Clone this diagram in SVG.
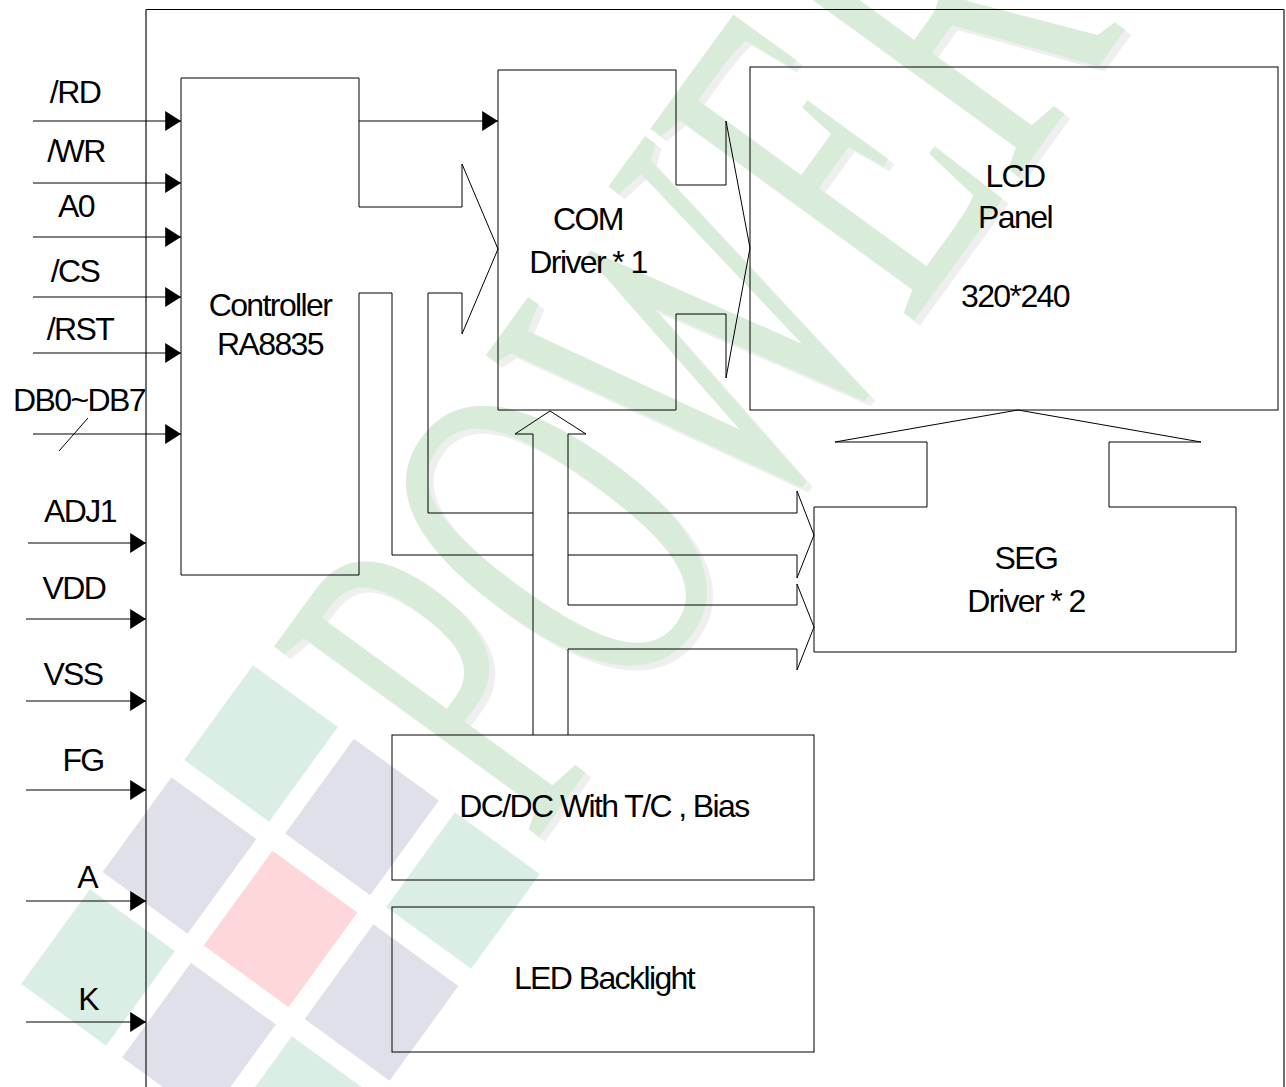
<svg xmlns="http://www.w3.org/2000/svg" width="1286" height="1087" viewBox="0 0 1286 1087">
<style>
.ln{fill:none;stroke:#000;stroke-width:1}
.fr{fill:none;stroke:#333;stroke-width:1.4}
.t{font-family:"Liberation Sans",Arial,sans-serif;font-size:32px;letter-spacing:-1.6px;fill:#000;text-anchor:middle}
.mint{fill:#dbeee5}
.lav{fill:#e0e0eb}
.pink{fill:#fdd7d9}
.wm{font-family:"Liberation Serif","Times New Roman",serif;font-size:300px}
</style>
<defs>
<marker id="ah" markerUnits="userSpaceOnUse" markerWidth="16" markerHeight="20" refX="15" refY="9.5" orient="auto" viewBox="0 0 15 19"><path d="M0,0 L15,9.5 L0,19 z" fill="#000"/></marker>
<rect id="sq" x="-52.5" y="-58.5" width="105" height="117"/>
</defs>
<rect width="1286" height="1087" fill="#fff"/>
<g id="watermark">
<use href="#sq" class="mint" transform="translate(261,743.5) rotate(36)"/>
<use href="#sq" class="lav" transform="translate(362,817) rotate(36)"/>
<use href="#sq" class="mint" transform="translate(463,890.5) rotate(36)"/>
<use href="#sq" class="lav" transform="translate(179.5,855.5) rotate(36)"/>
<use href="#sq" class="pink" transform="translate(280.5,929) rotate(36)"/>
<use href="#sq" class="lav" transform="translate(381.5,1002.5) rotate(36)"/>
<use href="#sq" class="mint" transform="translate(98,967.5) rotate(36)"/>
<use href="#sq" class="lav" transform="translate(199,1041) rotate(36)"/>
<use href="#sq" class="mint" transform="translate(300,1114.5) rotate(36)"/>
<text class="wm" fill="#efefef" transform="translate(539,850) rotate(-54) scale(0.96,1.66)">POWER</text>
<text class="wm" fill="#d9ecd9" transform="translate(533,845) rotate(-54) scale(0.96,1.66)">POWER</text>
</g>
<g id="frame">
<line class="ln" x1="146" y1="9.5" x2="1284" y2="9.5"/>
<line class="fr" x1="146" y1="9.5" x2="146" y2="1087"/>
<line class="fr" x1="1284" y1="9.5" x2="1284" y2="1087"/>
</g>
<g id="controller">
<path class="ln" d="M359,207 V78 H181 V575 H359 V293"/>
<text class="t" x="270" y="316">Controller</text>
<text class="t" x="270" y="355">RA8835</text>
</g>
<g id="com-driver">
<path class="ln" d="M676,185 V70 H498 V410 H676 V314"/>
<text class="t" x="588" y="230">COM</text>
<text class="t" x="588" y="273">Driver * 1</text>
</g>
<g id="lcd-panel">
<rect class="ln" x="750" y="67" width="528" height="343"/>
<text class="t" x="1015" y="187">LCD</text>
<text class="t" x="1015" y="228">Panel</text>
<text class="t" x="1015" y="307">320*240</text>
</g>
<g id="seg-driver">
<path class="ln" d="M927,507 H814 V652 H1236 V507 H1109"/>
<text class="t" x="1026" y="569">SEG</text>
<text class="t" x="1026" y="612">Driver * 2</text>
</g>
<g id="dcdc">
<rect class="ln" x="392" y="735" width="422" height="145"/>
<text class="t" x="604" y="817">DC/DC With T/C , Bias</text>
</g>
<g id="led-backlight">
<rect class="ln" x="392" y="907" width="422" height="145"/>
<text class="t" x="604" y="989">LED Backlight</text>
</g>
<g id="inputs">
<text class="t" x="75" y="103">/RD</text>
<text class="t" x="76" y="162">/WR</text>
<text class="t" x="76" y="217">A0</text>
<text class="t" x="75" y="282">/CS</text>
<text class="t" x="80" y="340">/RST</text>
<text class="t" x="79" y="411">DB0~DB7</text>
<text class="t" x="80" y="522">ADJ1</text>
<text class="t" x="74" y="599">VDD</text>
<text class="t" x="73" y="685">VSS</text>
<text class="t" x="83" y="771">FG</text>
<text class="t" x="87" y="888">A</text>
<text class="t" x="88" y="1010">K</text>
</g>
<g id="connectors">
<line class="ln" x1="33" y1="121" x2="181" y2="121" marker-end="url(#ah)"/>
<line class="ln" x1="33" y1="183" x2="181" y2="183" marker-end="url(#ah)"/>
<line class="ln" x1="33" y1="237" x2="181" y2="237" marker-end="url(#ah)"/>
<line class="ln" x1="33" y1="297" x2="181" y2="297" marker-end="url(#ah)"/>
<line class="ln" x1="33" y1="353" x2="181" y2="353" marker-end="url(#ah)"/>
<line class="ln" x1="33" y1="434" x2="181" y2="434" marker-end="url(#ah)"/>
<line class="ln" x1="59" y1="451" x2="88" y2="418"/>
<line class="ln" x1="28" y1="543" x2="146" y2="543" marker-end="url(#ah)"/>
<line class="ln" x1="26" y1="619" x2="146" y2="619" marker-end="url(#ah)"/>
<line class="ln" x1="26" y1="701" x2="146" y2="701" marker-end="url(#ah)"/>
<line class="ln" x1="26" y1="790" x2="146" y2="790" marker-end="url(#ah)"/>
<line class="ln" x1="26" y1="901" x2="146" y2="901" marker-end="url(#ah)"/>
<line class="ln" x1="26" y1="1022" x2="146" y2="1022" marker-end="url(#ah)"/>
<line class="ln" x1="359" y1="121" x2="498" y2="121" marker-end="url(#ah)"/>
<path class="ln" d="M359,207 H462 V164 L498,249 L462,334 V293 H428 V513 H533 M568,513 H797 V491 L814,535 L797,578 V555 H568 M533,555 H392 V293 H359"/>
<path class="ln" d="M533,735 V434 H515 L550,411 L586,434 H568 V605 H797 V584 L814,627 L797,670 V649 H568 V735"/>
<path class="ln" d="M676,185 H726 V121 L750,248 L726,378 V314 H676"/>
<path class="ln" d="M927,507 V442 H835 L1018,410 L1201,442 H1109 V507"/>
</g>
</svg>
